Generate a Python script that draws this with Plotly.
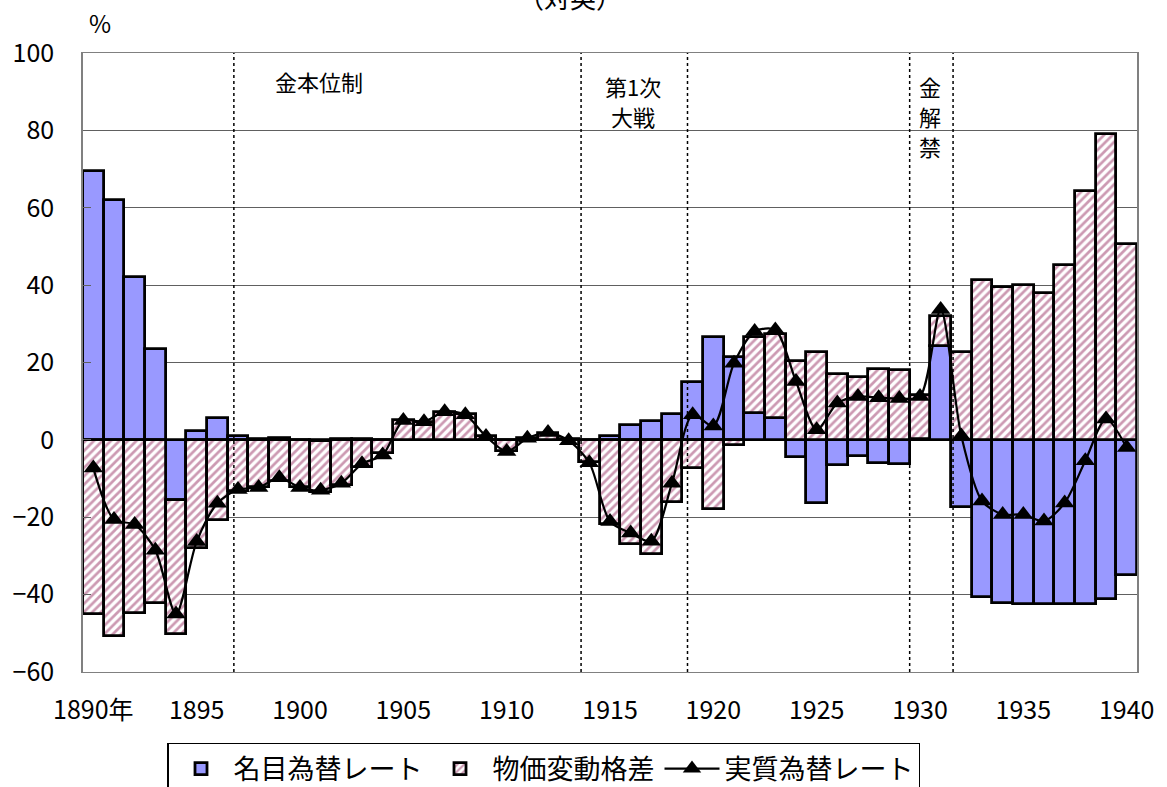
import plotly.graph_objects as go

# Years covered by the chart
years = list(range(1890, 1941))

# 名目為替レート (nominal exchange rate contribution, %)
nominal = [69.5, 62.0, 42.2, 23.5, -15.5, 2.3, 5.6, 1.0, 0.2, 0.5,
           0.0, -0.2, 0.3, 0.2, 0.0, 0.0, 0.0, 0.0, 0.0, 0.0,
           0.0, 0.0, 0.0, 0.0, 0.0, 1.0, 3.9, 4.9, 6.7, 14.9,
           26.7, 21.5, 6.9, 5.6, -4.5, -16.4, -6.5, -4.2, -6.1, -6.2,
           0.3, 24.3, -17.3, -40.6, -42.1, -42.4, -42.5, -42.5, -42.5, -41.2,
           -34.8]

# 物価変動格差 (price differential contribution, %)
price_gap = [-45.0, -50.7, -44.8, -42.2, -34.6, -27.9, -20.6, -13.3, -12.3, -10.5,
             -12.3, -13.2, -11.6, -6.9, -3.3, 5.2, 4.5, 7.3, 6.6, 1.0,
             -2.8, 0.4, 1.7, 0.2, -5.6, -21.7, -26.9, -29.5, -16.1, -7.3,
             -17.9, -1.3, 19.6, 21.8, 20.5, 22.8, 17.1, 16.3, 18.4, 18.1,
             11.2, 7.7, 22.6, 41.4, 39.6, 40.1, 37.9, 45.2, 64.4, 79.0,
             50.7]

# 実質為替レート (real exchange rate, %)
real_rate = [-7.3, -20.6, -21.9, -28.5, -45.0, -26.3, -16.4, -12.8, -12.3, -9.8,
             -12.3, -13.0, -11.2, -6.2, -3.9, 5.0, 4.7, 7.3, 6.5, 0.9,
             -3.0, 0.4, 1.9, -0.2, -5.9, -21.1, -24.1, -26.2, -11.2, 6.5,
             3.6, 19.8, 28.0, 28.4, 15.1, 2.6, 9.5, 11.2, 10.9, 10.7,
             11.2, 33.7, 1.0, -15.8, -19.3, -19.3, -21.0, -16.3, -5.4, 5.4,
             -2.0]

# Period boundaries (dotted vertical lines), in year units
event_lines = [1896.8, 1913.6, 1918.75, 1929.5, 1931.6]

# Period labels, one entry per text line: (text, x, y)
period_labels = [("金本位制", 1900.9, 92.8),
                 ("第1次", 1916.1, 91.6),
                 ("大戦", 1916.1, 83.8),
                 ("金", 1930.5, 91.6),
                 ("解", 1930.5, 83.8),
                 ("禁", 1930.5, 76.0)]

tick_years = list(range(1890, 1941, 5))
tick_text = ["1890年"] + [str(y) for y in tick_years[1:]]

FONT = "Noto Sans CJK JP"

fig = go.Figure()

fig.add_trace(go.Bar(
    x=years, y=nominal, name="名目為替レート",
    marker=dict(color="#9999FF", line=dict(color="black", width=2.8)),
))

fig.add_trace(go.Bar(
    x=years, y=price_gap, name="物価変動格差",
    marker=dict(
        color="white",
        line=dict(color="black", width=2.8),
        pattern=dict(shape="/", fgcolor="#993366", bgcolor="white",
                     size=6, solidity=0.45),
    ),
))

fig.add_trace(go.Scatter(
    x=years, y=real_rate, name="実質為替レート",
    mode="lines+markers",
    line=dict(color="black", width=2.2, shape="spline", smoothing=0.8),
    marker=dict(symbol="triangle-up", size=17, color="black"),
))

shapes = [
    dict(type="line", xref="x", yref="paper", x0=x, x1=x, y0=0, y1=1,
         line=dict(color="black", width=1.5, dash="dot"), layer="above")
    for x in event_lines
]

annotations = [
    dict(text=t, x=x, y=y, xref="x", yref="y", showarrow=False,
         yanchor="middle", font=dict(family=FONT, size=22, color="black"))
    for t, x, y in period_labels
]
annotations.append(dict(text="%", xref="paper", yref="paper",
                        x=0.004, y=1.050, showarrow=False, yanchor="middle",
                        font=dict(family=FONT, size=24, color="black")))
annotations.append(dict(text="（対英）", xref="paper", yref="paper",
                        x=0.462, y=1.091, showarrow=False, yanchor="middle",
                        font=dict(family=FONT, size=26, color="black")))

fig.update_layout(
    width=1167, height=787,
    margin=dict(l=83, r=30, t=53, b=115, autoexpand=False),
    paper_bgcolor="white", plot_bgcolor="white",
    barmode="relative", bargap=0,
    font=dict(family=FONT, size=25, color="black"),
    shapes=shapes, annotations=annotations,
    legend=dict(
        orientation="h", x=0.0797, xanchor="left", y=-0.1147, yanchor="top",
        bordercolor="black", borderwidth=1.5, bgcolor="white",
        font=dict(family=FONT, size=27, color="black"),
        itemwidth=55, traceorder="normal",
    ),
    xaxis=dict(
        range=[1889.5, 1940.5], tickvals=tick_years, ticktext=tick_text,
        showgrid=False, zeroline=False, ticks="",
        showline=True, linecolor="#808080", linewidth=1, mirror=True,
        ticklabelstandoff=16,
        tickfont=dict(family=FONT, size=25),
    ),
    yaxis=dict(
        range=[-60, 100], dtick=20, tick0=0,
        showgrid=True, gridcolor="#606060", gridwidth=1,
        zeroline=True, zerolinecolor="black", zerolinewidth=2,
        ticks="inside", ticklen=8, tickcolor="#606060",
        showline=True, linecolor="#808080", linewidth=1.5, mirror=True,
        ticklabelstandoff=22,
        tickfont=dict(family=FONT, size=25),
    ),
)

fig.write_html("out.html")
